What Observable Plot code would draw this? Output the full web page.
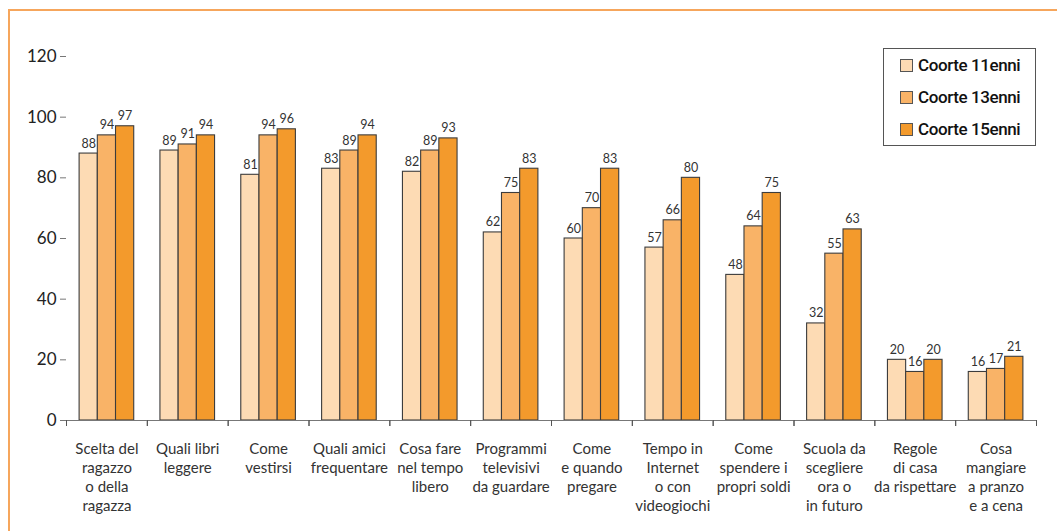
<!DOCTYPE html>
<html lang="it">
<head>
<meta charset="utf-8">
<script src="https://cdn.jsdelivr.net/npm/d3@7"></script>
<script src="https://cdn.jsdelivr.net/npm/@observablehq/plot@0.6"></script>
<style>
  html, body { margin: 0; padding: 0; background: #ffffff; }
  #wrap { position: relative; width: 1057px; height: 531px; overflow: hidden; background: #ffffff; }
  #frame { position: absolute; left: 8px; top: 9px; width: 1200px; height: 700px;
           border-top: 2px solid #f6a65c; border-left: 2px solid #f6a65c; }
  #chart { position: absolute; left: 0; top: 0; }
  #legend { position: absolute; left: 883px; top: 48px; width: 151px; height: 96px;
            border: 1px solid #555; background: #fff; box-sizing: content-box; }
  .item { position: absolute; left: 16px; display: flex; align-items: center;
          font-family: Roboto, "Liberation Sans", sans-serif; font-weight: 500; font-size: 17px;
          color: #111; letter-spacing: -0.4px; }
  .sw { width: 11px; height: 11px; border: 1px solid #555; margin-right: 5px; }
</style>
</head>
<body>
<div id="wrap">
  <div id="frame"></div>
  <div id="chart"></div>
  <div id="legend"></div>
</div>
<script>
// Ambiti di decisione (etichette su più righe)
const categories = [
  "Scelta del\nragazzo\no della\nragazza",
  "Quali libri\nleggere",
  "Come\nvestirsi",
  "Quali amici\nfrequentare",
  "Cosa fare\nnel tempo\nlibero",
  "Programmi\ntelevisivi\nda guardare",
  "Come\ne quando\npregare",
  "Tempo in\nInternet\no con\nvideogiochi",
  "Come\nspendere i\npropri soldi",
  "Scuola da\nscegliere\nora o\nin futuro",
  "Regole\ndi casa\nda rispettare",
  "Cosa\nmangiare\na pranzo\ne a cena"
];
const series = ["Coorte 11enni", "Coorte 13enni", "Coorte 15enni"];
const values11 = [88, 89, 81, 83, 82, 62, 60, 57, 48, 32, 20, 16];
const values13 = [94, 91, 94, 89, 89, 75, 70, 66, 64, 55, 16, 17];
const values15 = [97, 94, 96, 94, 93, 83, 83, 80, 75, 63, 20, 21];
const yTicks = [0, 20, 40, 60, 80, 100, 120];
const colors = ["#fddbb4", "#f9b367", "#f39a2c"];

const seriesValues = [values11, values13, values15];
const data = categories.flatMap((c, i) =>
  series.map((s, j) => ({category: c, series: s, value: seriesValues[j][i]}))
);

const W = 1057, H = 531;
const mL = 66, mR = 21, mT = 56, mB = 111;
const band = (W - mL - mR) / categories.length;
const font = "Lato, 'Open Sans', sans-serif";

const chart = Plot.plot({
  width: W,
  height: H,
  marginLeft: mL,
  marginRight: mR,
  marginTop: mT,
  marginBottom: mB,
  style: {fontFamily: font, background: "transparent", overflow: "visible"},
  fx: {domain: categories, padding: 0, round: false},
  x: {domain: series, paddingInner: 0, paddingOuter: 0.72, round: false, axis: null},
  y: {domain: [0, 120]},
  color: {domain: series, range: colors},
  marks: [
    Plot.axisY({ticks: yTicks, tickSize: 6, tickPadding: 4, line: true,
                stroke: "#777", fill: "#222", fontSize: 17, label: null}),
    Plot.barY(data, {fx: "category", x: "series", y: "value", fill: "series",
                     stroke: "#3c3c3c", strokeWidth: 1.1, inset: 0}),
    Plot.text(data, {fx: "category", x: "series", y: "value", text: d => String(d.value),
                     lineAnchor: "bottom", dy: -6, fontSize: 12.5, fill: "#333"}),
    Plot.ruleY([0], {stroke: "#777"}),
    // marcatori di confine fra le categorie, sotto l'asse
    Plot.axisFx({anchor: "bottom", tickSize: 6, tickFormat: () => "", dx: -band / 2, stroke: "#555", label: null}),
    Plot.axisFx({anchor: "bottom", tickSize: 6, tickFormat: () => "", dx: band / 2, stroke: "#555", label: null}),
    Plot.text(categories, {fx: d => d, text: d => d, frameAnchor: "bottom", lineAnchor: "top",
                           dy: 20, lineHeight: 1.27, fontSize: 15, fill: "#333"})
  ]
});
document.getElementById("chart").appendChild(chart);

// Legenda
const legend = document.getElementById("legend");
series.forEach((s, i) => {
  const item = document.createElement("div");
  item.className = "item";
  item.style.top = (6 + i * 32) + "px";
  const sw = document.createElement("span");
  sw.className = "sw";
  sw.style.background = colors[i];
  const label = document.createElement("span");
  label.textContent = s;
  item.appendChild(sw);
  item.appendChild(label);
  legend.appendChild(item);
});
</script>
</body>
</html>
